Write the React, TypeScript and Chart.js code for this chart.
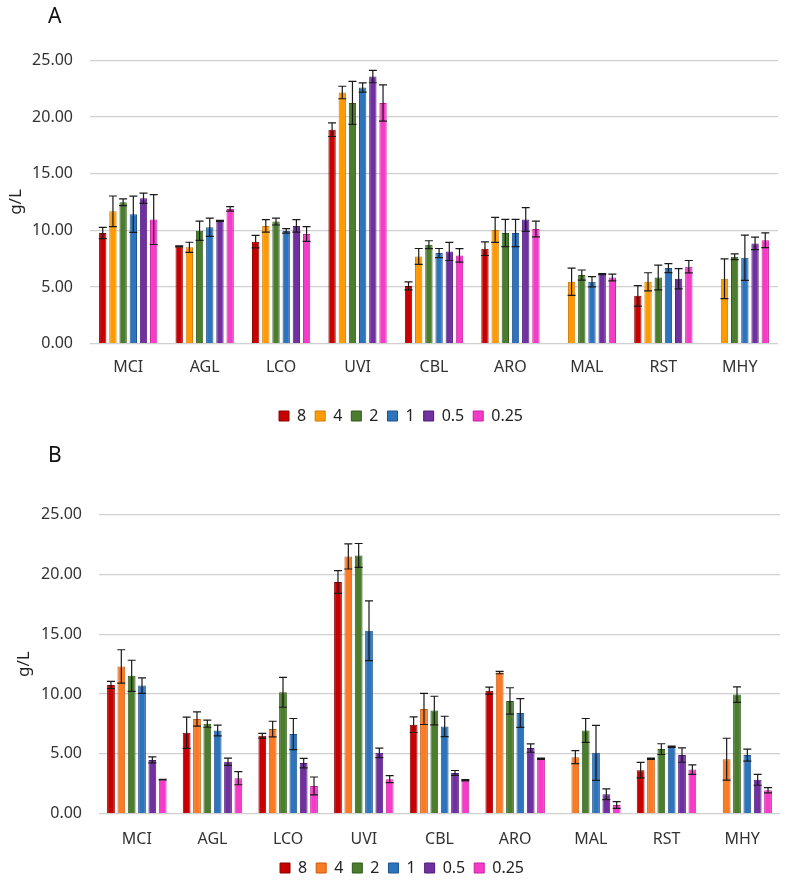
import React, { useEffect, useRef } from "react";
import { Chart, registerables } from "chart.js";

Chart.register(...registerables);

const categories = ["MCI", "AGL", "LCO", "UVI", "CBL", "ARO", "MAL", "RST", "MHY"];
const seriesLabels = ["8", "4", "2", "1", "0.5", "0.25"];
const yTicks = [0, 5, 10, 15, 20, 25];

// Panel A
const a8 = [9.77, 8.58, 9.0, 18.88, 5.1, 8.38, null, 4.22, null];
const a8Err = [0.5, 0.05, 0.55, 0.6, 0.35, 0.6, null, 0.9, null];
const a4 = [11.68, 8.5, 10.39, 22.16, 7.7, 10.04, 5.46, 5.46, 5.73];
const a4Err = [1.35, 0.45, 0.55, 0.55, 0.7, 1.1, 1.2, 0.8, 1.75];
const a2 = [12.48, 9.97, 10.77, 21.24, 8.73, 9.77, 6.05, 5.84, 7.67];
const a2Err = [0.3, 0.85, 0.3, 1.9, 0.35, 1.2, 0.45, 1.1, 0.25];
const a1 = [11.42, 10.27, 9.95, 22.6, 8.0, 9.77, 5.46, 6.67, 7.58];
const a1Err = [1.6, 0.8, 0.2, 0.4, 0.4, 1.2, 0.45, 0.4, 2.0];
const a05 = [12.83, 10.83, 10.39, 23.57, 8.14, 10.95, 6.14, 5.73, 8.85];
const a05Err = [0.45, 0.05, 0.55, 0.55, 0.8, 1.05, 0.05, 0.9, 0.55];
const a025 = [10.95, 11.89, 9.68, 21.24, 7.79, 10.12, 5.84, 6.79, 9.12];
const a025Err = [2.2, 0.2, 0.65, 1.6, 0.6, 0.7, 0.3, 0.55, 0.65];

// Panel B
const b8 = [10.77, 6.77, 6.52, 19.38, 7.44, 10.29, null, 3.64, null];
const b8Err = [0.3, 1.3, 0.2, 0.95, 0.65, 0.3, null, 0.65, null];
const b4 = [12.31, 7.92, 7.08, 21.51, 8.76, 11.8, 4.73, 4.59, 4.56];
const b4Err = [1.4, 0.6, 0.65, 1.05, 1.3, 0.1, 0.55, 0.05, 1.75];
const b2 = [11.53, 7.53, 10.15, 21.59, 8.62, 9.43, 6.96, 5.4, 9.96];
const b2Err = [1.3, 0.3, 1.25, 1.0, 1.2, 1.1, 1.0, 0.45, 0.65];
const b1 = [10.71, 6.96, 6.66, 15.3, 7.3, 8.42, 5.09, 5.6, 4.9];
const b1Err = [0.65, 0.45, 1.3, 2.5, 0.85, 1.2, 2.3, 0.05, 0.5];
const b05 = [4.5, 4.34, 4.23, 5.09, 3.41, 5.49, 1.63, 4.9, 2.83];
const b05Err = [0.25, 0.3, 0.4, 0.4, 0.2, 0.35, 0.45, 0.6, 0.45];
const b025 = [2.85, 2.97, 2.32, 2.89, 2.8, 4.59, 0.73, 3.69, 1.96];
const b025Err = [0.03, 0.55, 0.75, 0.3, 0.05, 0.05, 0.28, 0.4, 0.22];

const colorsA = ["#C80000", "#FF9A00", "#4C7C2E", "#2E74BC", "#7030A0", "#F53CC8"];
const bordersA = ["#8A0000", "#D07800", "#2F5A1A", "#1D5490", "#4E1C78", "#C8209E"];
const colorsB = ["#C80000", "#FA7B25", "#4C7C2E", "#2E74BC", "#7030A0", "#F53CC8"];
const bordersB = ["#8A0000", "#C85A10", "#2F5A1A", "#1D5490", "#4E1C78", "#C8209E"];

const FONT = "'Noto Sans', 'DejaVu Sans', sans-serif";

const errorBarPlugin = {
  id: "errorBars",
  afterDatasetsDraw(chart: any) {
    const ctx = chart.ctx;
    const yScale = chart.scales.y;
    ctx.save();
    ctx.strokeStyle = "#1a1a1a";
    ctx.lineWidth = 1.2;
    chart.data.datasets.forEach((ds: any, i: number) => {
      const meta = chart.getDatasetMeta(i);
      meta.data.forEach((el: any, j: number) => {
        const v = ds.data[j];
        const e = ds.errors ? ds.errors[j] : null;
        if (v == null || e == null) return;
        const x = el.x;
        const yt = yScale.getPixelForValue(v + e);
        const yb = yScale.getPixelForValue(v - e);
        const half = 4;
        ctx.beginPath();
        ctx.moveTo(x, yt);
        ctx.lineTo(x, yb);
        ctx.moveTo(x - half, yt);
        ctx.lineTo(x + half, yt);
        ctx.moveTo(x - half, yb);
        ctx.lineTo(x + half, yb);
        ctx.stroke();
      });
    });
    ctx.restore();
  },
};

const legendShiftPlugin = {
  id: "legendShift",
  afterLayout(chart: any, _args: any, opts: any) {
    const dx = (opts && opts.dx) || 0;
    if (chart.legend) {
      chart.legend.left += dx;
      chart.legend.right += dx;
    }
  },
};

type PanelCfg = {
  values: (number | null)[][];
  errors: (number | null)[][];
  colors: string[];
  borders: string[];
  width: number;
  height: number;
  yAxisWidth: number;
  padTop: number;
  padRight: number;
  padBottom: number;
  xAxisHeight: number;
  xLabelPad: number;
  titlePad: number;
  catPct: number;
  barPct: number;
  legendDx: number;
};

function Panel({ cfg }: { cfg: PanelCfg }) {
  const ref = useRef<HTMLCanvasElement | null>(null);
  useEffect(() => {
    if (!ref.current) return;
    const datasets = seriesLabels.map((lab, i) => ({
      label: lab,
      data: cfg.values[i],
      errors: cfg.errors[i],
      backgroundColor: cfg.colors[i],
      borderColor: cfg.borders[i],
      borderWidth: 1,
      categoryPercentage: cfg.catPct,
      barPercentage: cfg.barPct,
    }));
    const chart = new Chart(ref.current, {
      type: "bar",
      data: { labels: categories, datasets: datasets as any },
      options: {
        animation: false,
        responsive: false,
        layout: { padding: { top: cfg.padTop, right: cfg.padRight, bottom: cfg.padBottom, left: 0 } },
        plugins: {
          tooltip: { enabled: false },
          legendShift: { dx: cfg.legendDx },
          legend: {
            position: "bottom",
            labels: {
              boxWidth: 10,
              boxHeight: 10,
              padding: 9,
              color: "#222",
              font: { family: FONT, size: 16 },
            },
          },
        } as any,
        scales: {
          x: {
            grid: { display: false, drawTicks: false },
            border: { display: false },
            ticks: { color: "#333", font: { family: FONT, size: 16 }, padding: cfg.xLabelPad },
            afterFit: (s: any) => {
              s.height = cfg.xAxisHeight;
            },
          },
          y: {
            min: 0,
            max: 25,
            afterBuildTicks: (s: any) => {
              s.ticks = yTicks.map((v) => ({ value: v }));
            },
            grid: { color: "#d0d0d0", lineWidth: 1.3, drawTicks: false },
            border: { display: false },
            ticks: {
              color: "#333",
              font: { family: FONT, size: 16 },
              padding: 17,
              callback: (v: any) => Number(v).toFixed(2),
            },
            title: {
              display: true,
              text: "g/L",
              color: "#222",
              font: { family: FONT, size: 17 },
              padding: { top: cfg.titlePad, bottom: 0 },
            },
            afterFit: (s: any) => {
              s.width = cfg.yAxisWidth;
            },
          },
        },
      },
      plugins: [errorBarPlugin, legendShiftPlugin],
    });
    return () => chart.destroy();
  }, []);
  return <canvas ref={ref} width={cfg.width} height={cfg.height} style={{ display: "block" }} />;
}

const cfgA: PanelCfg = {
  values: [a8, a4, a2, a1, a05, a025],
  errors: [a8Err, a4Err, a2Err, a1Err, a05Err, a025Err],
  colors: colorsA,
  borders: bordersA,
  width: 787,
  height: 440,
  yAxisWidth: 90,
  padTop: 60.3,
  padRight: 9,
  padBottom: 6,
  xAxisHeight: 55.3,
  xLabelPad: 14.5,
  titlePad: 6,
  catPct: 0.8,
  barPct: 0.72,
  legendDx: 12,
};

const cfgB: PanelCfg = {
  values: [b8, b4, b2, b1, b05, b025],
  errors: [b8Err, b4Err, b2Err, b1Err, b05Err, b025Err],
  colors: colorsB,
  borders: bordersB,
  width: 787,
  height: 452,
  yAxisWidth: 99,
  padTop: 74.7,
  padRight: 7,
  padBottom: 6,
  xAxisHeight: 37.3,
  xLabelPad: 16,
  titlePad: 14,
  catPct: 0.82,
  barPct: 0.75,
  legendDx: 12,
};

export default function App() {
  return (
    <div style={{ position: "absolute", left: 0, top: 0, width: 787, height: 892, background: "#fff" }}>
      <Panel cfg={cfgA} />
      <Panel cfg={cfgB} />
      <div style={{ position: "absolute", left: 48, top: 1, fontFamily: FONT, fontSize: 21, color: "#111", lineHeight: "normal" }}>A</div>
      <div style={{ position: "absolute", left: 48, top: 440, fontFamily: FONT, fontSize: 21, color: "#111", lineHeight: "normal" }}>B</div>
    </div>
  );
}
